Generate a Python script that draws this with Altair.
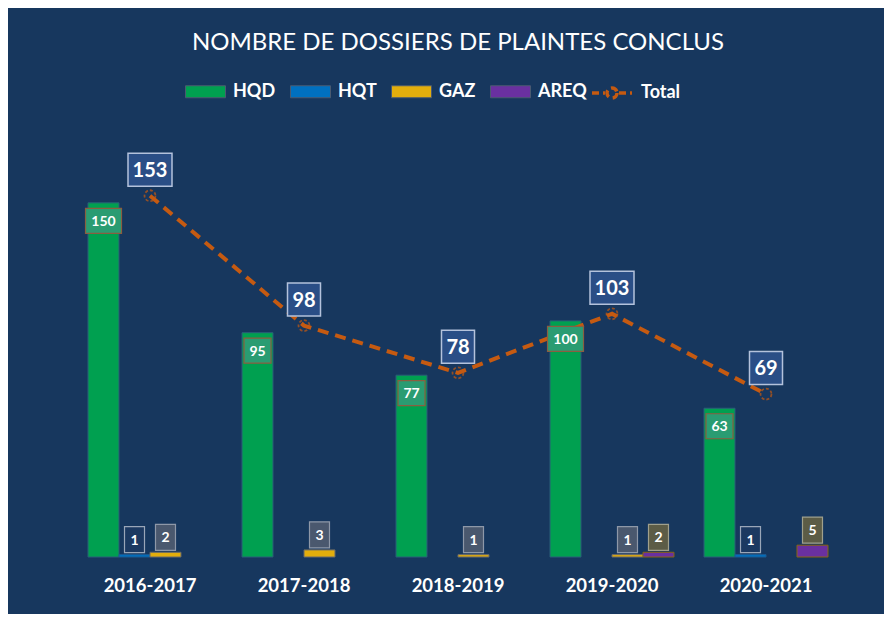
import altair as alt
import pandas as pd

# ---------------- data ----------------
years = ["2016-2017", "2017-2018", "2018-2019", "2019-2020", "2020-2021"]
series = ["HQD", "HQT", "GAZ", "AREQ"]
hqd = [150, 95, 77, 100, 63]
hqt = [1, 0, 0, 0, 1]
gaz = [2, 3, 1, 1, 0]
areq = [0, 0, 0, 2, 5]
total = [153, 98, 78, 103, 69]
title_text = "NOMBRE DE DOSSIERS DE PLAINTES CONCLUS"

# ---------------- styles ----------------
BG = "#17375E"
FONT = "Lato"
bar_fill = {"HQD": "#00A050", "HQT": "#0070C0", "GAZ": "#E3AE0C", "AREQ": "#6A30A0"}
bar_stroke = {"HQD": "#2A5F78", "HQT": "#1D5A90", "GAZ": "#6A6A6A", "AREQ": "#8A6510"}
line_color = "#C55A11"
box_fill = {"HQD": "#2A9C72", "HQT": "#1C3961", "GAZ": "#4A586E", "AREQ": "#5C5C46", "TOT": "#2A4E86"}
box_stroke = {"HQD": "#8A5E40", "HQT": "#9AA6B8", "GAZ": "#8E98A8", "AREQ": "#A0A08C", "TOT": "#B4C2DC"}
box_dy = {"HQD": 18, "HQT": -15, "GAZ": -15, "AREQ": -15, "TOT": -26}
text_size = {"HQD": 14, "HQT": 14, "GAZ": 14, "AREQ": 14, "TOT": 20}


def rect(w, h):
    return f"M{-w/2},{-h/2}L{w/2},{-h/2}L{w/2},{h/2}L{-w/2},{h/2}Z"


box_shapes = {
    "HQD3": rect(36, 25), "HQD2": rect(27, 25),
    "HQT1": rect(20, 26), "GAZ1": rect(20, 26), "AREQ1": rect(20, 26),
    "TOT3": rect(44, 33), "TOT2": rect(33, 33),
}

rows = []
for s, vals in zip(series, [hqd, hqt, gaz, areq]):
    for y, v in zip(years, vals):
        if v > 0:
            rows.append({"year": y, "series": s, "value": v, "label": str(v),
                         "box": f"{s}{len(str(v))}"})
bars_df = pd.DataFrame(rows)
tot_df = pd.DataFrame({
    "year": years, "value": total, "name": ["Total"] * len(years),
    "label": [str(v) for v in total],
    "box": [f"TOT{len(str(v))}" for v in total],
})

x_enc = alt.X("year:N", scale=alt.Scale(domain=years, paddingInner=0.195, paddingOuter=0.0975),
              axis=alt.Axis(title=None, labelAngle=0, labelFont=FONT, labelFontSize=18.5,
                            labelFontWeight="bold", labelColor="white", labelPadding=19,
                            ticks=False, domain=False, grid=False))
xo_enc = alt.XOffset("series:N", scale=alt.Scale(domain=series, paddingInner=0, paddingOuter=0))
y_enc = alt.Y("value:Q", scale=alt.Scale(domain=[0, 180]), axis=None)
shape_enc = alt.Shape("box:N", scale=alt.Scale(domain=list(box_shapes.keys()),
                                               range=list(box_shapes.values())), legend=None)

bar_legend = alt.Legend(
    orient="none", legendX=112, legendY=-61, direction="horizontal", title=None,
    symbolType="M-1,-0.3L1,-0.3L1,0.3L-1,0.3Z", symbolSize=1600,
    symbolStrokeColor="#4A5A70", symbolStrokeWidth=1, symbolOpacity=1,
    labelFont=FONT, labelFontSize=18, labelFontWeight="bold", labelColor="white",
    labelOffset=7, columnPadding=12, padding=0,
)
fill_enc = alt.Fill("series:N", scale=alt.Scale(domain=series, range=[bar_fill[s] for s in series]),
                    legend=bar_legend)

layers = []
for s in series:
    layers.append(
        alt.Chart(bars_df).transform_filter(alt.datum.series == s)
        .mark_bar(stroke=bar_stroke[s], strokeWidth=1)
        .encode(x=x_enc, xOffset=xo_enc, y=y_enc, fill=fill_enc)
    )

line_legend = alt.Legend(
    orient="none", legendX=517, legendY=-61, direction="horizontal", title=None,
    symbolType="M-1,0L-0.35,0M0.35,0L1,0M0.25,0A0.25,0.25,0,1,1,-0.25,0A0.25,0.25,0,1,1,0.25,0",
    symbolSize=1600, symbolStrokeWidth=3.5, symbolDash=[7, 4], symbolFillColor="transparent",
    labelFont=FONT, labelFontSize=18, labelFontWeight="bold", labelColor="white",
    labelOffset=7, padding=0,
)
line = alt.Chart(tot_df).mark_line(strokeWidth=4, strokeDash=[11, 7]).encode(
    x=x_enc, y=y_enc,
    stroke=alt.Stroke("name:N", scale=alt.Scale(domain=["Total"], range=[line_color]), legend=line_legend),
)
pts = alt.Chart(tot_df).mark_point(shape="circle", filled=False, size=120, stroke=line_color,
                                   strokeWidth=1.8, strokeDash=[3, 2]).encode(x=x_enc, y=y_enc)
layers += [line, pts]

# label boxes + texts
for s in series:
    base = alt.Chart(bars_df).transform_filter(alt.datum.series == s)
    layers.append(base.mark_point(size=4, filled=True, fill=box_fill[s], stroke=box_stroke[s],
                                  strokeWidth=1.2, opacity=1, yOffset=box_dy[s])
                  .encode(x=x_enc, xOffset=xo_enc, y=y_enc, shape=shape_enc))
    layers.append(base.mark_text(font=FONT, fontSize=text_size[s], fontWeight="bold", color="white",
                                 baseline="middle", align="center", yOffset=box_dy[s] + 1)
                  .encode(x=x_enc, xOffset=xo_enc, y=y_enc, text="label:N"))

tb = alt.Chart(tot_df)
layers.append(tb.mark_point(size=4, filled=True, fill=box_fill["TOT"], stroke=box_stroke["TOT"],
                            strokeWidth=1.5, opacity=1, yOffset=box_dy["TOT"])
              .encode(x=x_enc, y=y_enc, shape=shape_enc))
layers.append(tb.mark_text(font=FONT, fontSize=text_size["TOT"], fontWeight="bold", color="white",
                           baseline="middle", align="center", yOffset=box_dy["TOT"] + 1)
              .encode(x=x_enc, y=y_enc, text="label:N"))

chart = alt.layer(*layers).properties(
    width=770, height=425,
    autosize=alt.AutoSizeParams(type="none"),
    padding={"left": 65, "top": 124, "right": 41, "bottom": 57},
    background=BG,
    title=alt.TitleParams(title_text, font=FONT, fontSize=24, fontWeight="normal",
                          color="white", anchor="middle", offset=16),
).configure_view(strokeWidth=0)

chart.save("out.html", embed_options={"renderer": "svg", "actions": False})
